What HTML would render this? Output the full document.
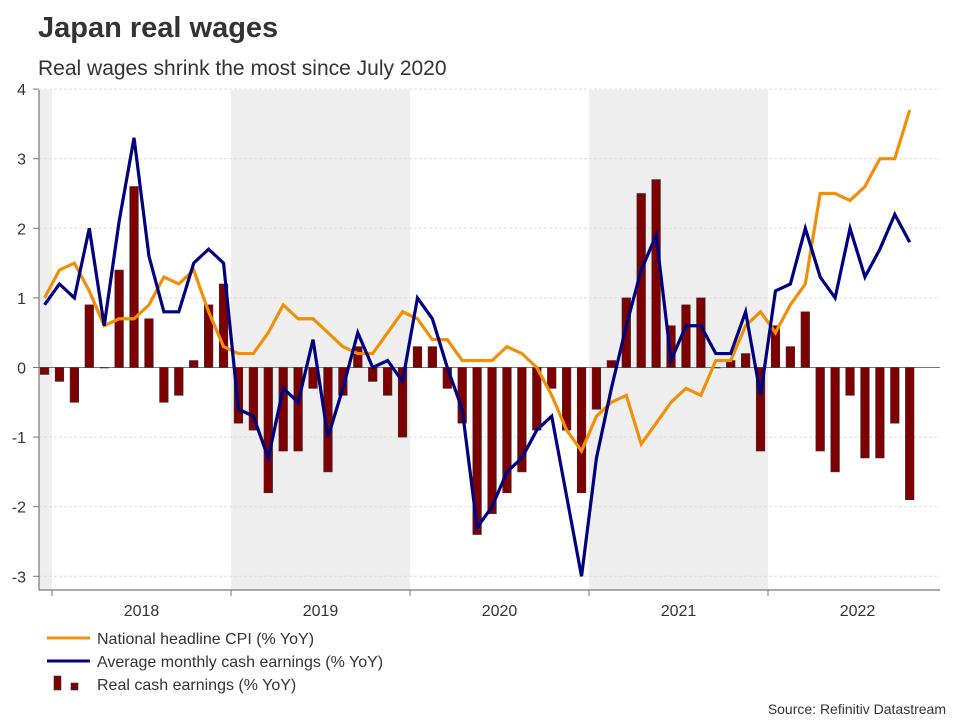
<!DOCTYPE html>
<html><head><meta charset="utf-8"><style>
body{margin:0;background:#fff;width:960px;height:720px;overflow:hidden;font-family:"Liberation Sans",sans-serif}
</style></head><body>
<svg id="chart" width="960" height="720" xmlns="http://www.w3.org/2000/svg" font-family="Liberation Sans, sans-serif">
<text x="38" y="37" font-size="29" font-weight="bold" fill="#333">Japan real wages</text>
<text x="38" y="75" font-size="21" fill="#333">Real wages shrink the most since July 2020</text>
<g id="bands"></g><g id="grid"></g><g id="bars"></g><g id="lines"></g><g id="axes"></g>
<g>
<line x1="47" y1="638" x2="90" y2="638" stroke="#f0900a" stroke-width="3"/>
<text x="97" y="644" font-size="16" fill="#333">National headline CPI (% YoY)</text>
<line x1="47" y1="661" x2="90" y2="661" stroke="#000080" stroke-width="3"/>
<text x="97" y="667" font-size="16" fill="#333">Average monthly cash earnings (% YoY)</text>
<rect x="54" y="676" width="7" height="14" fill="#7f0000" stroke="#333" stroke-width="0.6"/>
<rect x="71" y="683" width="7" height="7" fill="#7f0000" stroke="#333" stroke-width="0.6"/>
<text x="97" y="690" font-size="16" fill="#333">Real cash earnings (% YoY)</text>
</g>
<text x="946" y="714" font-size="14" fill="#333" text-anchor="end">Source: Refinitiv Datastream</text>
</svg>
<script>
const years = ["2018","2019","2020","2021","2022"];
const yTicks = [4,3,2,1,0,-1,-2,-3];
const realEarnings = [-0.1,-0.2,-0.5,0.9,0.0,1.4,2.6,0.7,-0.5,-0.4,0.1,0.9,1.2,-0.8,-0.9,-1.8,-1.2,-1.2,-0.3,-1.5,-0.4,0.3,-0.2,-0.4,-1.0,0.3,0.3,-0.3,-0.8,-2.4,-2.1,-1.8,-1.5,-0.9,-0.3,-0.9,-1.8,-0.6,0.1,1.0,2.5,2.7,0.6,0.9,1.0,0.0,0.1,0.2,-1.2,0.6,0.3,0.8,-1.2,-1.5,-0.4,-1.3,-1.3,-0.8,-1.9];
const cpi = [1.0,1.4,1.5,1.1,0.6,0.7,0.7,0.9,1.3,1.2,1.4,0.8,0.3,0.2,0.2,0.5,0.9,0.7,0.7,0.5,0.3,0.2,0.2,0.5,0.8,0.7,0.4,0.4,0.1,0.1,0.1,0.3,0.2,0.0,-0.4,-0.9,-1.2,-0.7,-0.5,-0.4,-1.1,-0.8,-0.5,-0.3,-0.4,0.1,0.1,0.6,0.8,0.5,0.9,1.2,2.5,2.5,2.4,2.6,3.0,3.0,3.7];
const earnings = [0.9,1.2,1.0,2.0,0.6,2.1,3.3,1.6,0.8,0.8,1.5,1.7,1.5,-0.6,-0.7,-1.3,-0.3,-0.5,0.4,-1.0,-0.3,0.5,0.0,0.1,-0.2,1.0,0.7,0.0,-0.6,-2.3,-2.0,-1.5,-1.3,-0.9,-0.7,-1.85,-3.0,-1.3,-0.3,0.6,1.4,1.9,0.1,0.6,0.6,0.2,0.2,0.8,-0.4,1.1,1.2,2.0,1.3,1.0,2.0,1.3,1.7,2.2,1.8];

const NS="http://www.w3.org/2000/svg";
const X0=52, YEARW=179, MW=YEARW/12, L=39, R=940, TOP=90, BOT=590;
const xm = i => X0 - MW/2 + MW*i;       // month index 0 = Dec 2017
const y = v => 367.5 - v*69.6;
function mk(tag, parent, attrs){const e=document.createElementNS(NS,tag);for(const k in attrs)e.setAttribute(k,attrs[k]);document.getElementById(parent).appendChild(e);return e;}

// shaded bands (Dec 2017, 2019, 2021)
[[L,X0],[X0+YEARW,X0+2*YEARW],[X0+3*YEARW,X0+4*YEARW]].forEach((b,k)=>{
  const r=mk('rect','bands',{x:b[0],y:TOP,width:b[1]-b[0],height:BOT-TOP,fill:'#eeeeee'});
  
  
});
yTicks.forEach(t=>{
  const g=mk('line','grid',{x1:L,x2:R,y1:y(t),y2:y(t),stroke:t===0?'#777':'#ddd','stroke-width':1,'stroke-dasharray':t===0?'':'3,2'});
  
  
  const tk=mk('line','axes',{x1:33,x2:L,y1:y(t),y2:y(t),stroke:'#777'});
  
  
  const tx=mk('text','axes',{x:26,y:y(t)+6,'font-size':16,fill:'#333','text-anchor':'end'});
  tx.textContent=t;
  
  
});
realEarnings.forEach((v,i)=>{
  const b=mk('rect','bars',{x:xm(i)-4.3,y:Math.min(y(v),y(0)),width:8.6,height:Math.max(Math.abs(y(v)-y(0)),0.5),fill:'#7f0000',stroke:'#333','stroke-width':0.6});
  
  
});
function line(arr,color,name){
  const p=mk('polyline','lines',{points:arr.map((v,i)=>xm(i)+','+y(v)).join(' '),fill:'none',stroke:color,'stroke-width':3.2,'stroke-linejoin':'miter'});
  
  
}
line(cpi,'#f0900a','cpi-line');
line(earnings,'#000080','earnings-line');
const ax=mk('path','axes',{d:`M${L} ${TOP}V${BOT}H${R}`,fill:'none',stroke:'#777','stroke-width':1.2});


years.forEach((yr,k)=>{
  const tk=mk('line','axes',{x1:X0+k*YEARW,x2:X0+k*YEARW,y1:BOT,y2:BOT+6,stroke:'#777'});
  
  
  const t=mk('text','axes',{x:X0+k*YEARW+YEARW/2,y:616,'font-size':16,fill:'#333','text-anchor':'middle'});
  t.textContent=yr;
  
  
});
</script>
</body></html>
